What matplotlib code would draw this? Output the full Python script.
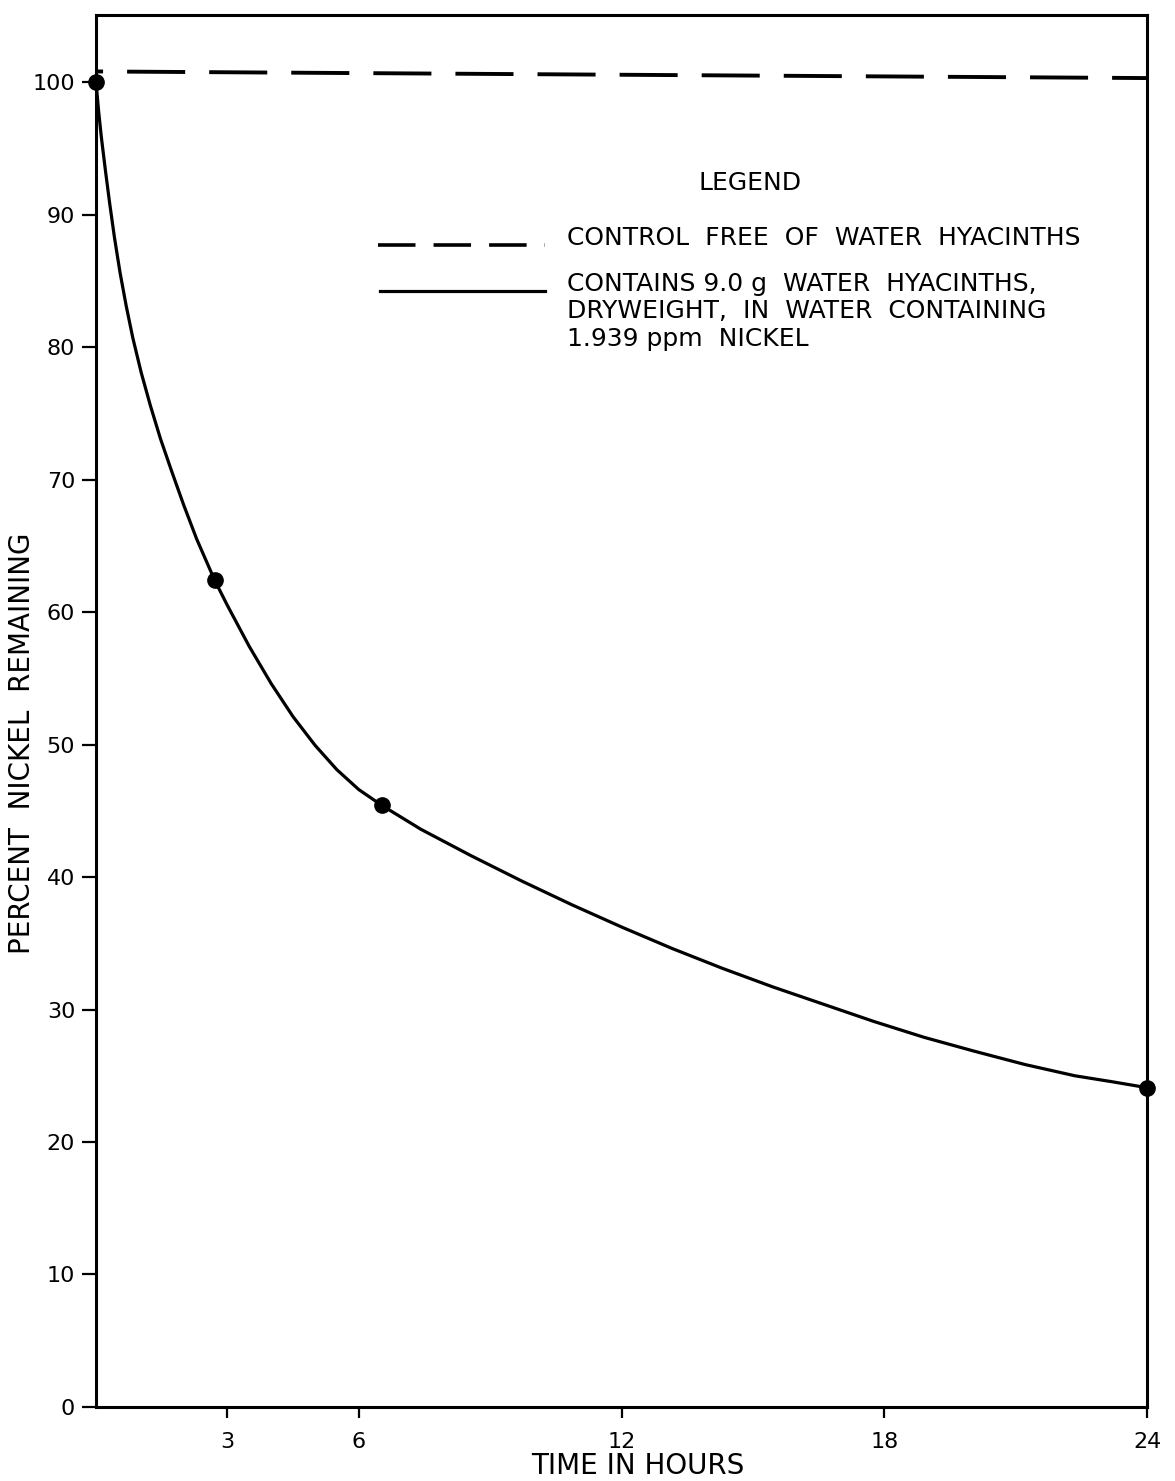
"""Nickel removal by water hyacinths: percent remaining vs time."""
import matplotlib
matplotlib.use("Agg")
import matplotlib.pyplot as plt
from matplotlib.lines import Line2D

# measured points (dots)
hours = [0, 2.71, 6.53, 24]
nickel_pct = [100, 62.4, 45.4, 24.1]

# hand-drawn smooth curve
curve_hours = [0, 0.06, 0.12, 0.22, 0.31, 0.42, 0.55, 0.69, 0.84, 1.03, 1.24,
               1.47, 1.72, 2.0, 2.3, 2.71, 3.0, 3.5, 4.0, 4.5, 5.0, 5.5, 6.0,
               6.53, 7.42, 8.57, 9.72, 10.87, 12.02, 13.16, 14.31, 15.46,
               16.61, 17.76, 18.91, 20.06, 21.21, 22.35, 23.2, 24.0]
curve_pct = [100, 97.8, 95.9, 93.2, 90.9, 88.3, 85.6, 83.1, 80.7, 78.1, 75.6,
             73.1, 70.7, 68.1, 65.5, 62.4, 60.5, 57.4, 54.6, 52.1, 49.95, 48.1,
             46.6, 45.4, 43.6, 41.6, 39.7, 37.9, 36.2, 34.6, 33.1, 31.7,
             30.4, 29.1, 27.9, 26.85, 25.85, 25.0, 24.55, 24.1]

# control, free of water hyacinths
control_hours = [0, 24]
control_pct = [100.8, 100.3]

x_ticks = [3, 6, 12, 18, 24]
y_ticks = list(range(0, 101, 10))

plt.rcParams["font.family"] = ["DejaVu Sans"]
plt.rcParams["lines.scale_dashes"] = False

fig = plt.figure(figsize=(11.75, 14.81), dpi=100)
ax = fig.add_axes([0.0817, 0.04997, 0.8945, 0.9399])

ax.plot(curve_hours, curve_pct, color="black", lw=2.3, solid_joinstyle="round")
ax.plot(hours, nickel_pct, "o", color="black", ms=11, clip_on=False, zorder=5)
ax.plot(control_hours, control_pct, color="black", lw=2.8,
        linestyle=(36.7, (41.8, 17.3)), clip_on=False)

ax.set_xlim(0, 24)
ax.set_ylim(0, 105.06)
ax.set_xticks(x_ticks)
ax.set_yticks(y_ticks)
ax.tick_params(axis="y", direction="out", length=10, width=1.6, pad=5, labelsize=16)
ax.tick_params(axis="x", direction="out", length=8, width=1.6, pad=10, labelsize=16)
for s in ax.spines.values():
    s.set_linewidth(2.2)

ax.set_xlabel("TIME IN HOURS", fontsize=20)
ax.xaxis.set_label_coords(0.515, -0.0325)
ax.set_ylabel("PERCENT  NICKEL  REMAINING", fontsize=20, va="center")
ax.yaxis.set_label_coords(-0.0704, 0.477)

# hand-lettered legend
ax.text(0.622, 0.879, "LEGEND", transform=ax.transAxes, ha="center", va="center",
        fontsize=18)
ax.add_line(Line2D([0.268, 0.427], [0.835, 0.835], transform=ax.transAxes,
                   color="black", lw=2.6, linestyle=(0, (27, 13))))
ax.add_line(Line2D([0.270, 0.427], [0.802, 0.802], transform=ax.transAxes,
                   color="black", lw=2.3))
ax.text(0.448, 0.840, "CONTROL  FREE  OF  WATER  HYACINTHS", transform=ax.transAxes,
        ha="left", va="center", fontsize=18)
ax.text(0.448, 0.8155, "CONTAINS 9.0 g  WATER  HYACINTHS,\nDRYWEIGHT,  IN  WATER  CONTAINING\n1.939 ppm  NICKEL",
        transform=ax.transAxes, ha="left", va="top", fontsize=18, linespacing=1.185)

fig.savefig("out.png", dpi=100)
